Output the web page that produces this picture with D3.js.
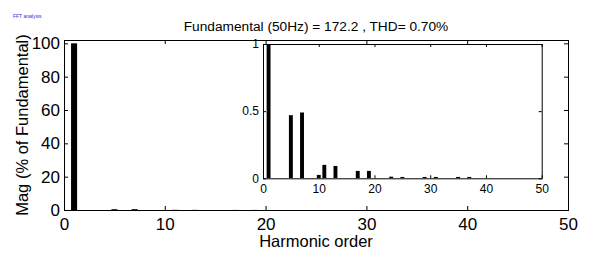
<!DOCTYPE html>
<html>
<head>
<meta charset="utf-8">
<script src="https://cdnjs.cloudflare.com/ajax/libs/d3/7.8.5/d3.min.js"></script>
<style>
  body { margin: 0; background: #fff; }
  svg { display: block; font-family: "Liberation Sans", Arial, Helvetica, sans-serif; }
  .tick text { fill: #000; }
</style>
</head>
<body>
<div id="chart"></div>
<script>
// FFT harmonic spectrum, magnitude in % of fundamental

// harmonic orders that carry a visible bar
var harmonics = [1, 5, 7, 10, 11, 13, 17, 19, 23, 25, 29, 31, 35, 37];
// magnitudes (% of fundamental)
var magnitudes = [100, 0.47, 0.49, 0.025, 0.10, 0.092, 0.055, 0.055, 0.012, 0.01, 0.01, 0.01, 0.01, 0.01];

var mainXTicks = [0, 10, 20, 30, 40, 50];
var mainYTicks = [0, 20, 40, 60, 80, 100];
var insetXTicks = [0, 10, 20, 30, 40, 50];
var insetYTicks = [0, 0.5, 1];

var titleText = 'Fundamental (50Hz) = 172.2 , THD= 0.70%';

var data = harmonics.map(function(h, i) { return {h: h, v: magnitudes[i]}; });

var W = 593, H = 258;

var svg = d3.select('#chart').append('svg')
    .attr('width', W)
    .attr('height', H);

svg.append('rect').attr('width', W).attr('height', H).attr('fill', '#fff');

// little label in the corner of the window
svg.append('text')
    .attr('x', 13).attr('y', 18)
    .attr('font-size', '5px')
    .attr('fill', '#2a2ad8')
    .text('FFT analysis');

// ---- main axes ----
var x = d3.scaleLinear().domain([0, 50]).range([64, 568]);
var y = d3.scaleLinear().domain([0, 102]).range([210, 40]);

function drawBox(g, xs, ys, xt, yt, tickLen, fontSize, yFmt, xPad) {
  var x0 = xs.range()[0], x1 = xs.range()[1];
  var y0 = ys.range()[0], y1 = ys.range()[1];

  g.append('rect')
      .attr('x', x0).attr('y', y1)
      .attr('width', x1 - x0).attr('height', y0 - y1)
      .attr('fill', '#fff');

  // inward ticks on all four sides
  g.append('g').attr('transform', 'translate(0,' + y0 + ')')
      .call(d3.axisBottom(xs).tickValues(xt).tickSizeInner(-tickLen).tickSizeOuter(0).tickPadding(xPad))
      .attr('font-size', fontSize + 'px').attr('font-family', null);
  g.append('g').attr('transform', 'translate(0,' + y1 + ')')
      .call(d3.axisTop(xs).tickValues(xt).tickSizeInner(-tickLen).tickSizeOuter(0).tickFormat(''));
  g.append('g').attr('transform', 'translate(' + x0 + ',0)')
      .call(d3.axisLeft(ys).tickValues(yt).tickSizeInner(-tickLen).tickSizeOuter(0).tickPadding(4).tickFormat(yFmt))
      .attr('font-size', fontSize + 'px').attr('font-family', null);
  g.append('g').attr('transform', 'translate(' + x1 + ',0)')
      .call(d3.axisRight(ys).tickValues(yt).tickSizeInner(-tickLen).tickSizeOuter(0).tickFormat(''));

  g.selectAll('.domain').remove();
  g.selectAll('.tick line').attr('stroke', '#000');
}

function drawBars(g, xs, ys, widthUnits, clipId) {
  var x0 = xs.range()[0], x1 = xs.range()[1];
  var y0 = ys.range()[0], y1 = ys.range()[1];
  g.append('clipPath').attr('id', clipId)
    .append('rect')
      .attr('x', x0).attr('y', y1)
      .attr('width', x1 - x0).attr('height', y0 - y1);
  var bw = xs(widthUnits) - xs(0);
  g.append('g').attr('clip-path', 'url(#' + clipId + ')')
    .selectAll('rect')
    .data(data)
    .enter().append('rect')
      .attr('x', function(d) { return xs(d.h) - bw / 2; })
      .attr('y', function(d) { return ys(d.v); })
      .attr('width', bw)
      .attr('height', function(d) { return y0 - ys(d.v); })
      .attr('fill', '#000');
}

function drawFrame(g, xs, ys) {
  var x0 = xs.range()[0], x1 = xs.range()[1];
  var y0 = ys.range()[0], y1 = ys.range()[1];
  g.append('rect')
      .attr('x', x0 + 0.5).attr('y', y1 + 0.5)
      .attr('width', x1 - x0).attr('height', y0 - y1)
      .attr('fill', 'none')
      .attr('stroke', '#000')
      .attr('stroke-width', 1);
}

var main = svg.append('g');
drawBox(main, x, y, mainXTicks, mainYTicks, 4, 17, d3.format('d'), 8);
drawBars(main, x, y, 0.6, 'clipMain');
drawFrame(main, x, y);

// axis labels
svg.append('text')
    .attr('x', (64 + 568) / 2).attr('y', 247)
    .attr('text-anchor', 'middle')
    .attr('font-size', '16.5px')
    .text('Harmonic order');

svg.append('text')
    .attr('transform', 'translate(28,125) rotate(-90)')
    .attr('text-anchor', 'middle')
    .attr('font-size', '16.5px')
    .text('Mag (% of Fundamental)');

svg.append('text')
    .attr('x', 316).attr('y', 31)
    .attr('text-anchor', 'middle')
    .attr('font-size', '13.7px')
    .text(titleText);

// ---- zoomed inset ----
var xi = d3.scaleLinear().domain([0, 50]).range([263, 541.7]);
var yi = d3.scaleLinear().domain([0, 1]).range([178.3, 44]);

var inset = svg.append('g');
drawBox(inset, xi, yi, insetXTicks, insetYTicks, 3, 12, function(d) { return d3.format('')(d); }, 6);
drawBars(inset, xi, yi, 0.7, 'clipInset');
drawFrame(inset, xi, yi);
</script>
</body>
</html>
